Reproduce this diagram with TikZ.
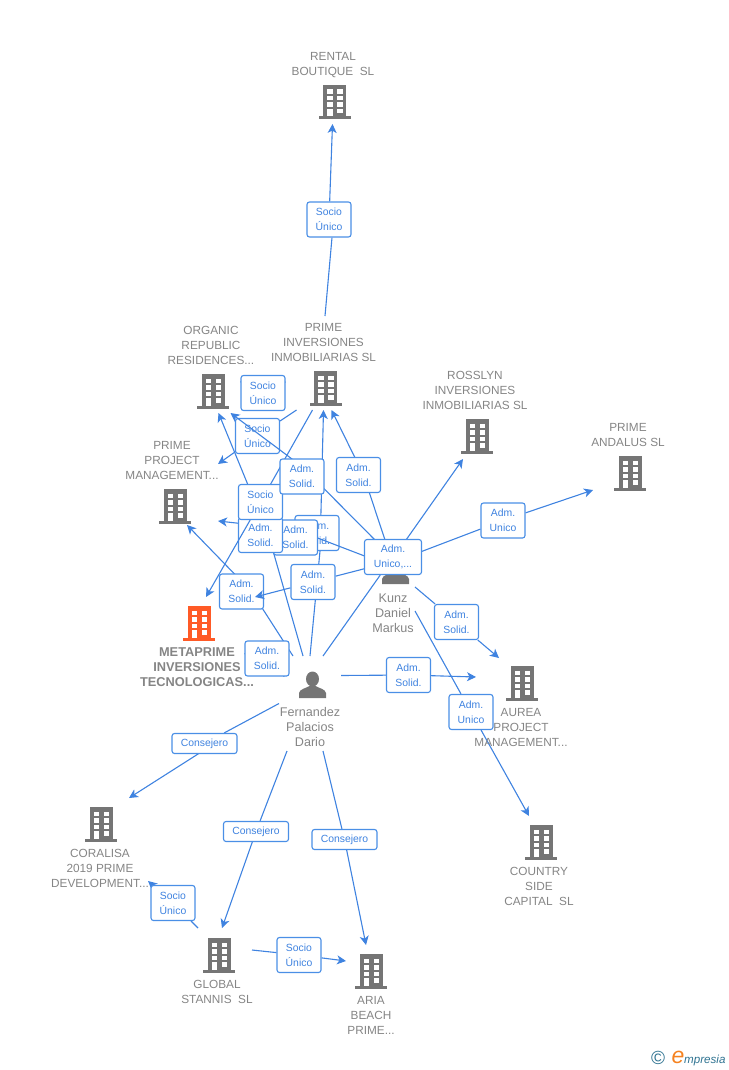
\documentclass[tikz,border=0pt]{standalone}
\usepackage{fontspec}
\setmainfont{Liberation Sans}
\usetikzlibrary{arrows.meta,positioning}

\definecolor{linkblue}{HTML}{3F83E0}
\definecolor{iconblue}{HTML}{4A8FE6}
\definecolor{icongray}{HTML}{757575}
\definecolor{iconorange}{HTML}{FF5A26}
\definecolor{txtgray}{HTML}{858585}
\definecolor{logoteal}{HTML}{2F7391}
\definecolor{logoorange}{HTML}{F58220}

\pgfdeclarelayer{linkbase}
\pgfdeclarelayer{lablow}
\pgfdeclarelayer{linkmid}
\pgfdeclarelayer{labmid}
\pgfdeclarelayer{linktop}
\pgfsetlayers{linkbase,lablow,linkmid,labmid,linktop,main}

\tikzset{
  ent/.style={inner sep=0pt, outer sep=0pt},
  nametxt/.style={align=center, text=txtgray, font=\fontsize{11.8}{15}\selectfont, inner sep=0pt},
  rel/.style={draw=iconblue, line width=1.1pt, rounded corners=2.5pt, fill=white, text=linkblue,
    align=center, font=\fontsize{10.4}{15}\selectfont, minimum width=44pt, minimum height=35pt, inner sep=0pt},
  relwide/.style={rel, minimum width=65pt, minimum height=20pt},
  link/.style={draw=linkblue, line width=1.1pt},
  arr/.style={link, -{Stealth[length=9pt,width=9pt,inset=2.5pt]}},
  pics/bldg/.style={code={
    \fill[#1] (-11.5,-17) rectangle (11.5,17);
    \fill[#1] (-16,14.5) rectangle (16,17.5);
    \foreach \wy in {-12.5,-6,0.5,7}{
      \fill[white] (2.5,\wy) rectangle (8,\wy+4.5);
    }
    \foreach \wy in {-12.5,-6,0.5}{
      \fill[white] (-7.5,\wy) rectangle (-2,\wy+4.5);
    }
    \fill[white] (-7.5,7) rectangle (-2,14.5);
  }},
  pics/persona/.style={code={
    \fill[icongray] (0,-6) ellipse (6.5 and 7.5);
    \fill[icongray] (-13.5,13) -- (-13.5,8) .. controls (-13,4) and (-6,3) .. (-3,1)
      -- (3,1) .. controls (6,3) and (13,4) .. (13.5,8) -- (13.5,13) -- cycle;
  }}
}

\begin{document}
\begin{tikzpicture}[x=1pt,y=-1pt]
  \useasboundingbox (0,0) rectangle (728,1070);

  % companies
  \node[ent, minimum width=81pt, minimum height=77pt] (rental) at (332.5,85.5) {};
  \node[nametxt] (rentaltxt) at (333,65) {RENTAL\\BOUTIQUE\ \ SL};
  \pic at (334.5,102) {bldg=icongray};

  \node[ent, minimum width=105pt, minimum height=94pt] (primeinv) at (323.5,363) {};
  \node[nametxt] (primeinvtxt) at (323.5,342) {PRIME\\INVERSIONES\\INMOBILIARIAS SL};
  \pic at (325.5,388) {bldg=icongray};

  \node[ent, minimum width=85pt, minimum height=93pt] (organic) at (210.5,366.5) {};
  \node[nametxt] (organictxt) at (211,345) {ORGANIC\\REPUBLIC\\RESIDENCES...};
  \pic at (213,391) {bldg=icongray};

  \node[ent, minimum width=104pt, minimum height=91pt] (rosslyn) at (475,413.5) {};
  \node[nametxt] (rosslyntxt) at (475,390) {ROSSLYN\\INVERSIONES\\INMOBILIARIAS SL};
  \pic at (477,436) {bldg=icongray};

  \node[ent, minimum width=71pt, minimum height=70pt] (andalus) at (628.5,455) {};
  \node[nametxt] (andalustxt) at (628,434.5) {PRIME\\ANDALUS SL};
  \pic at (630,473) {bldg=icongray};

  \node[ent, minimum width=91pt, minimum height=88pt] (primeproject) at (172.5,481) {};
  \node[nametxt] (primeprojecttxt) at (172,460) {PRIME\\PROJECT\\MANAGEMENT...};
  \pic at (175,506) {bldg=icongray};

  \node[ent, minimum width=116pt, minimum height=93pt] (metaprime) at (197,643.5) {};
  \node[nametxt, font=\fontsize{12.8}{15}\selectfont\bfseries] (metaprimetxt) at (197,667) {METAPRIME\\INVERSIONES\\TECNOLOGICAS...};
  \pic at (199,623) {bldg=iconorange};

  \node[ent, minimum width=92pt, minimum height=94pt] (aurea) at (522,705) {};
  \node[nametxt] (aureatxt) at (521,727) {AUREA\\PROJECT\\MANAGEMENT...};
  \pic at (522,683) {bldg=icongray};

  \node[ent, minimum width=58pt, minimum height=92pt] (country) at (539,862) {};
  \node[nametxt] (countrytxt) at (539,886) {COUNTRY\\SIDE\\CAPITAL\ \ SL};
  \pic at (541,842) {bldg=icongray};

  \node[ent, minimum width=96pt, minimum height=92pt] (coralisa) at (100,844) {};
  \node[nametxt] (coralisatxt) at (100,868) {CORALISA\\2019 PRIME\\DEVELOPMENT...};
  \pic at (101,824) {bldg=icongray};

  \node[ent, minimum width=70pt, minimum height=80pt] (global) at (217,968) {};
  \node[nametxt] (globaltxt) at (217,991.5) {GLOBAL\\STANNIS\ \ SL};
  \pic at (219,955) {bldg=icongray};

  \node[ent, minimum width=50pt, minimum height=93pt] (aria) at (371,991.5) {};
  \node[nametxt] (ariatxt) at (371,1015) {ARIA\\BEACH\\PRIME...};
  \pic at (371,971) {bldg=icongray};

  % people
  \node[ent, minimum width=62pt, minimum height=95pt] (fernandez) at (310,703.5) {};
  \node[nametxt, font=\fontsize{12.6}{15}\selectfont] (fernandeztxt) at (310,727) {Fernandez\\Palacios\\Dario};
  \pic at (312.5,685) {persona};

  \node[ent, minimum width=40pt, minimum height=94pt] (kunz) at (395,587) {};
  \node[nametxt, font=\fontsize{12.6}{15}\selectfont] (kunztxt) at (393,613) {Kunz\\Daniel\\Markus};
  \pic at (395.5,571) {persona};

  % labels, the ones that lie under others first
  \begin{pgfonlayer}{lablow}
    \node[rel] (solidf) at (317,533) {Adm.\\Solid.};
  \end{pgfonlayer}
  \begin{pgfonlayer}{labmid}
    \node[rel] (socioa) at (257.5,436) {Socio\\Único};
    \node[rel] (solidh) at (295.5,537.5) {Adm.\\Solid.};
    \node[rel] (solidi) at (260.5,535) {Adm.\\Solid.};
    \node[rel] (solidj) at (241.5,591.5) {Adm.\\Solid.};
  \end{pgfonlayer}
  \node[rel] (sociorental) at (329,219.5) {Socio\\Único};
  \node[rel] (socioorganic) at (263,393) {Socio\\Único};
  \node[rel] (socioc) at (260.5,502) {Socio\\Único};
  \node[rel] (solidd) at (302,476.5) {Adm.\\Solid.};
  \node[rel] (solide) at (358.5,475) {Adm.\\Solid.};
  \node[rel] (solidg) at (313,582) {Adm.\\Solid.};
  \node[rel] (solidk) at (267,658.5) {Adm.\\Solid.};
  \node[rel, minimum width=57pt] (unicokunz) at (393,557) {Adm.\\Unico,...};
  \node[rel] (unicoandalus) at (503,520.5) {Adm.\\Unico};
  \node[rel] (solidaurea) at (456.5,622) {Adm.\\Solid.};
  \node[rel] (solidfern) at (408.5,675) {Adm.\\Solid.};
  \node[rel] (unicocountry) at (471,712) {Adm.\\Unico};
  \node[relwide] (conscoralisa) at (204.5,743.5) {Consejero};
  \node[relwide] (consglobal) at (256,831.5) {Consejero};
  \node[relwide] (consaria) at (344.5,839.5) {Consejero};
  \node[rel] (sociocoralisa) at (173,903) {Socio\\Único};
  \node[rel] (socioaria) at (299,955) {Socio\\Único};

  % connectors
  \begin{pgfonlayer}{linkbase}
    \draw[arr] ([xshift=1.5pt]primeinv.north) -- ([xshift=3pt]sociorental.south) (sociorental) -- (rental.south);
    \draw[arr] (primeinv) -- (socioorganic) -- (organic);
    \draw[arr] ([xshift=-27pt]primeinv.south) -- (socioa) -- ([yshift=17pt]primeproject.east);
    \draw[arr] ([xshift=-7pt]fernandez.north) -- ([xshift=8pt]solidi.center) -- ([xshift=8pt]organic.south);
    \draw[arr] ([xshift=-17pt]fernandez.north) -- ([xshift=10pt]solidj.center) -- ([xshift=14.5pt]primeproject.south);
    \draw[arr] (fernandez.north) -- ([xshift=3pt]solidf.south) -- (primeinv.south);
    \draw[arr] (fernandez) -- (solidk) -- (metaprime);
    \draw[arr] ([xshift=13pt]fernandez.north) -- (unicokunz) -- ([yshift=10pt]kunz.center);
    \draw[arr] ([yshift=28pt]fernandez.east) -- (solidfern) -- ([yshift=28pt]aurea.west);
    \draw[arr] (fernandez.west) -- (conscoralisa) ([xshift=10pt]conscoralisa.center) -- ([xshift=29pt]coralisa.north);
    \draw[arr] ([xshift=-23pt]fernandez.south) -- (consglobal) -- ([xshift=5pt]global.north);
    \draw[arr] ([xshift=13pt]fernandez.south) -- (consaria) -- ([xshift=-5pt]aria.north);
    \draw[arr] ([xshift=-19pt]global.north) -- (sociocoralisa) -- ([yshift=-37pt]coralisa.east);
    \draw[arr] ([yshift=18pt]global.east) -- (socioaria) -- ([yshift=30.5pt]aria.west);
    \draw[arr] ([xshift=-10pt]kunz.north) -- ([xshift=5pt]solide.center) -- ([xshift=8pt]primeinv.south);
    \draw[arr] ([xshift=11pt]kunz.north) -- ([xshift=-12pt]rosslyn.south);
    \draw[arr] ([yshift=33pt]kunz.east) -- (unicoandalus) -- (andalus.south west);
    \draw[arr] (kunz.east) -- (solidaurea) -- ([xshift=-23pt]aurea.north);
    \draw[arr] ([yshift=-24pt]kunz.east) -- (unicocountry) -- ([xshift=-10pt]country.north);
  \end{pgfonlayer}
  \begin{pgfonlayer}{linkmid}
    \draw[arr] ([yshift=27pt]kunz.west) -- ([yshift=8pt]solidh.center) -- ([yshift=-40pt]primeproject.east);
  \end{pgfonlayer}
  \begin{pgfonlayer}{linktop}
    \draw[arr] ([xshift=-11pt]primeinv.south) -- (socioc) -- ([xshift=9pt]metaprime.north);
    \draw[arr] (kunz.north west) -- ([yshift=10pt]solidd.center) -- ([xshift=20pt]organic.south);
    \draw[arr] ([yshift=21pt]kunz.west) -- (solidg) -- (metaprime.north east);
  \end{pgfonlayer}

  % logo
  \node[inner sep=0pt, text=logoteal, font=\fontsize{19}{19}\selectfont] (logoc) at (658,1058) {©};
  \node[inner sep=0pt, text=logoorange, font=\fontsize{23}{23}\selectfont\itshape] (logoe) at (678,1057) {e};
  \node[inner sep=0pt, text=logoteal, font=\fontsize{11.6}{12}\selectfont\itshape, anchor=west] (logotxt) at (684,1060) {mpresia};
\end{tikzpicture}
\end{document}
